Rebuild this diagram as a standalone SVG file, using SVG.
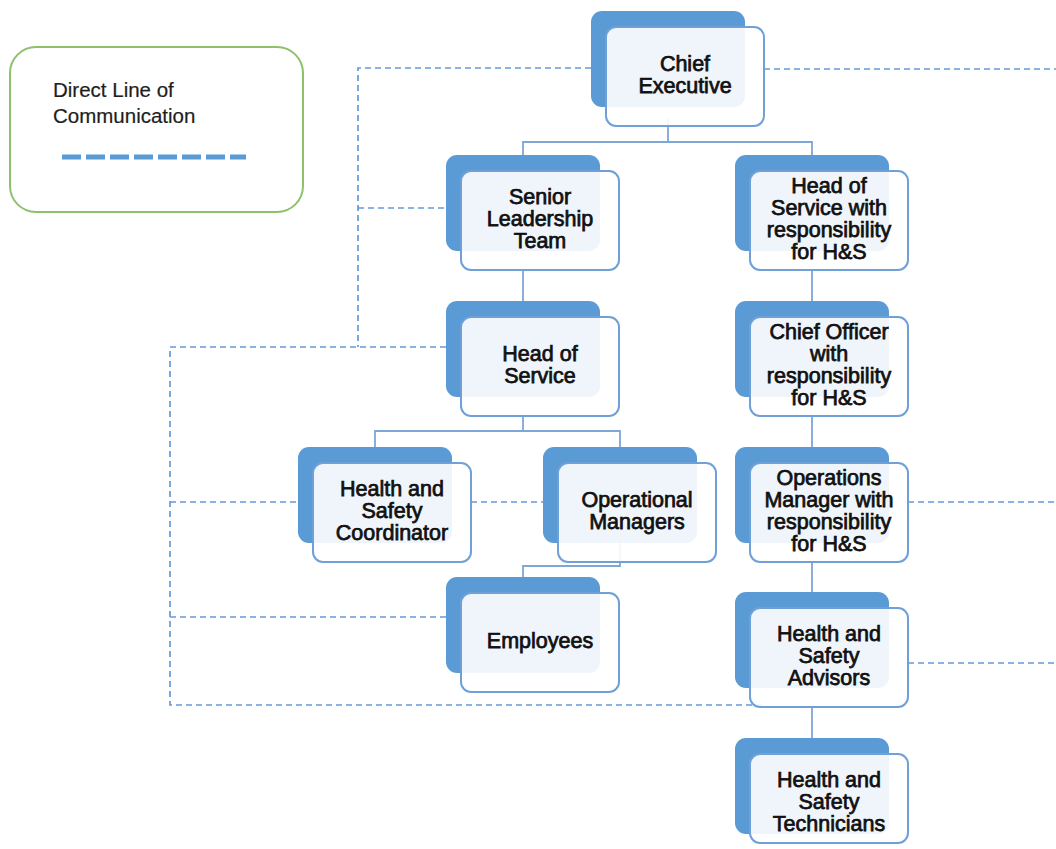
<svg xmlns="http://www.w3.org/2000/svg" width="1056" height="849" viewBox="0 0 1056 849">
<style>
.bk{fill:#5b9bd5;}
.fr{fill:#ffffff;fill-opacity:0.9;stroke:#6fa0d8;stroke-width:2;}
.t{font-family:"Liberation Sans",Arial,sans-serif;font-size:21.5px;fill:#111111;stroke:#111111;stroke-width:0.75;text-anchor:middle;}
.lt{font-family:"Liberation Sans",Arial,sans-serif;font-size:20.5px;fill:#1e1e1e;stroke:#1e1e1e;stroke-width:0.2;}
.solid{fill:none;stroke:#7fa7d6;stroke-width:1.8;}
.dash{fill:none;stroke:#649bd8;stroke-width:1.7;stroke-dasharray:6 4;}
</style>
<rect width="1056" height="849" fill="#ffffff"/>
<g id="legend">
<rect x="10" y="47" width="293" height="165" rx="26" fill="#ffffff" stroke="#8cc26a" stroke-width="2"/>
<text class="lt" x="53" y="97">Direct Line of</text>
<text class="lt" x="53" y="123">Communication</text>
<path d="M62,157 H246" fill="none" stroke="#5b9bd5" stroke-width="5" stroke-dasharray="19 5"/>
</g>
<g id="connectors">
<path class="solid" d="M668,118 V142 M523,155 V142 H812 V155"/>
<path class="solid" d="M523,270 V301"/>
<path class="solid" d="M523,415 V431 M375,447 V431 H620 V447"/>
<path class="solid" d="M620,543 V566 H523 V577"/>
<path class="solid" d="M812,270 V301 M812,416 V447 M812,562 V592 M812,707 V738"/>
<path class="dash" d="M591,68 H358 V347"/>
<path class="dash" d="M358,208 H446"/>
<path class="dash" d="M446,347 H170 V705 H762"/>
<path class="dash" d="M170,502 H298"/>
<path class="dash" d="M471,502 H543"/>
<path class="dash" d="M170,617 H446"/>
<path class="dash" d="M764,69 H1056"/>
<path class="dash" d="M908,502 H1056"/>
<path class="dash" d="M908,663 H1056"/>
</g>
<g id="chief-executive">
<rect class="bk" x="591" y="11" width="154" height="96" rx="11"/>
<rect class="fr" x="606" y="27" width="158" height="99" rx="10"/>
<text class="t" x="685" y="71.2">Chief</text>
<text class="t" x="685" y="93.2">Executive</text>
</g>
<g id="senior-leadership-team">
<rect class="bk" x="446" y="155" width="154" height="96" rx="11"/>
<rect class="fr" x="461" y="171" width="158" height="99" rx="10"/>
<text class="t" x="540" y="204.2">Senior</text>
<text class="t" x="540" y="226.2">Leadership</text>
<text class="t" x="540" y="248.2">Team</text>
</g>
<g id="head-of-service-hs">
<rect class="bk" x="735" y="155" width="154" height="96" rx="11"/>
<rect class="fr" x="750" y="171" width="158" height="99" rx="10"/>
<text class="t" x="829" y="193.2">Head of</text>
<text class="t" x="829" y="215.2">Service with</text>
<text class="t" x="829" y="237.2">responsibility</text>
<text class="t" x="829" y="259.2">for H&amp;S</text>
</g>
<g id="head-of-service">
<rect class="bk" x="446" y="301" width="154" height="96" rx="11"/>
<rect class="fr" x="461" y="317" width="158" height="99" rx="10"/>
<text class="t" x="540" y="361.2">Head of</text>
<text class="t" x="540" y="383.2">Service</text>
</g>
<g id="chief-officer">
<rect class="bk" x="735" y="301" width="154" height="96" rx="11"/>
<rect class="fr" x="750" y="317" width="158" height="99" rx="10"/>
<text class="t" x="829" y="339.2">Chief Officer</text>
<text class="t" x="829" y="361.2">with</text>
<text class="t" x="829" y="383.2">responsibility</text>
<text class="t" x="829" y="405.2">for H&amp;S</text>
</g>
<g id="hs-coordinator">
<rect class="bk" x="298" y="447" width="154" height="96" rx="11"/>
<rect class="fr" x="313" y="463" width="158" height="99" rx="10"/>
<text class="t" x="392" y="496.2">Health and</text>
<text class="t" x="392" y="518.2">Safety</text>
<text class="t" x="392" y="540.2">Coordinator</text>
</g>
<g id="operational-managers">
<rect class="bk" x="543" y="447" width="154" height="96" rx="11"/>
<rect class="fr" x="558" y="463" width="158" height="99" rx="10"/>
<text class="t" x="637" y="507.2">Operational</text>
<text class="t" x="637" y="529.2">Managers</text>
</g>
<g id="operations-manager-hs">
<rect class="bk" x="735" y="447" width="154" height="96" rx="11"/>
<rect class="fr" x="750" y="463" width="158" height="99" rx="10"/>
<text class="t" x="829" y="485.2">Operations</text>
<text class="t" x="829" y="507.2">Manager with</text>
<text class="t" x="829" y="529.2">responsibility</text>
<text class="t" x="829" y="551.2">for H&amp;S</text>
</g>
<g id="employees">
<rect class="bk" x="446" y="577" width="154" height="96" rx="11"/>
<rect class="fr" x="461" y="593" width="158" height="99" rx="10"/>
<text class="t" x="540" y="648.2">Employees</text>
</g>
<g id="hs-advisors">
<rect class="bk" x="735" y="592" width="154" height="96" rx="11"/>
<rect class="fr" x="750" y="608" width="158" height="99" rx="10"/>
<text class="t" x="829" y="641.2">Health and</text>
<text class="t" x="829" y="663.2">Safety</text>
<text class="t" x="829" y="685.2">Advisors</text>
</g>
<g id="hs-technicians">
<rect class="bk" x="735" y="738" width="154" height="96" rx="11"/>
<rect class="fr" x="750" y="754" width="158" height="89" rx="10"/>
<text class="t" x="829" y="787.2">Health and</text>
<text class="t" x="829" y="809.2">Safety</text>
<text class="t" x="829" y="831.2">Technicians</text>
</g>
</svg>
